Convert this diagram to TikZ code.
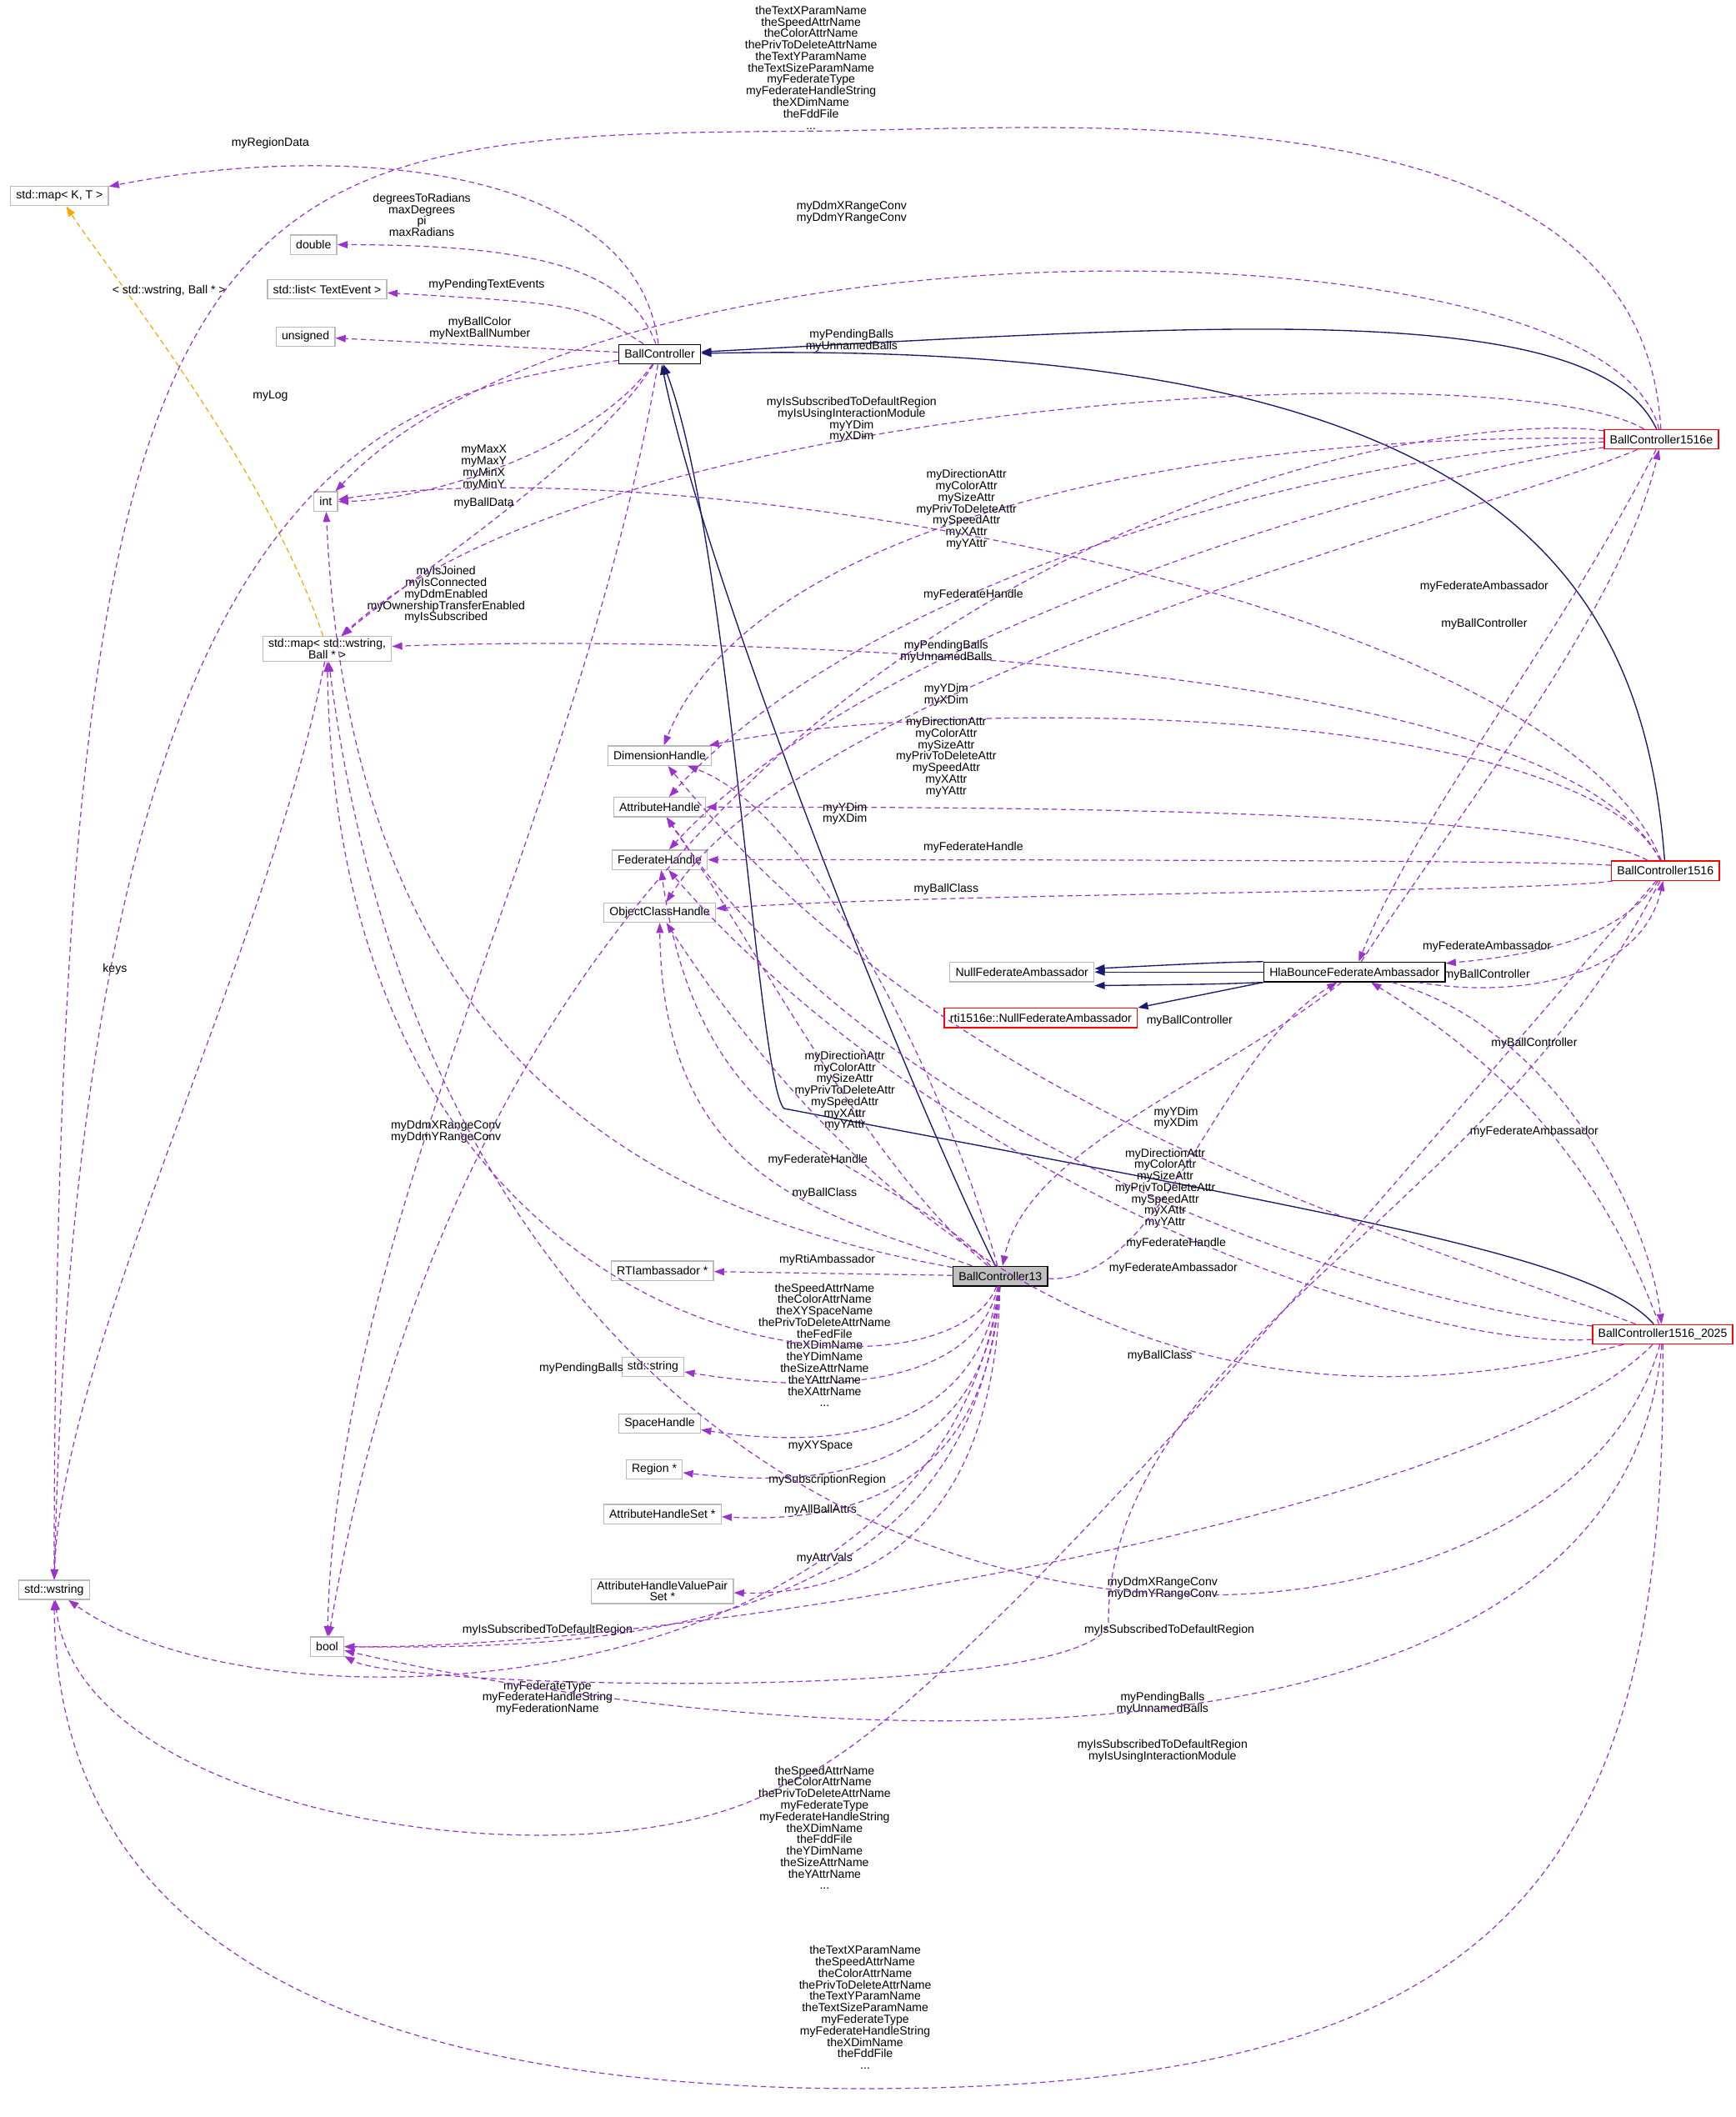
\documentclass[tikz,border=0pt]{standalone}
\usepackage{fontspec}
\setmainfont{Liberation Sans}
\usetikzlibrary{arrows.meta}
\definecolor{dep}{HTML}{9A32CD}
\definecolor{inh}{HTML}{191970}
\definecolor{tpl}{HTML}{FFA500}
\begin{document}
\begin{tikzpicture}[x=0.6pt,y=-0.6pt,
 every node/.style={font=\fontsize{5.2}{5.1}\selectfont},
 box/.style={draw=gray!55,line width=0.5pt,inner xsep=2.5pt,minimum height=8.6pt,inner ysep=1pt,fill=white},
 rbox/.style={box,draw=red},
 mbox/.style={box,draw=black,line width=0.6pt},
 cbox/.style={box,draw=black,fill=gray!50,line width=0.6pt},
 lab/.style={align=center,inner sep=0pt},
 d/.style={draw=dep,dash pattern=on 2.4pt off 1.6pt,line width=0.45pt,-{Triangle[length=4.5pt,width=3.2pt,fill=dep]}},
 i/.style={draw=inh,line width=0.5pt,-{Triangle[length=4.5pt,width=3.2pt,fill=inh]}},
 t/.style={draw=tpl,dash pattern=on 2.4pt off 1.6pt,line width=0.45pt,-{Triangle[length=4.5pt,width=3.2pt,fill=tpl]}}]
\useasboundingbox (0,0) rectangle (1284,1566);
% nodes
\node[box] (mapKT) at (44,145) {std::map< K, T >};
\node[box] (dbl) at (232,181) {double};
\node[box] (lst) at (242,214) {std::list< TextEvent >};
\node[box] (uns) at (226,249) {unsigned};
\node[mbox] (bc) at (488,262) {BallController};
\node[box] (int) at (241,371) {int};
\node[box,align=center] (mapwB) at (242,480) {std::map< std::wstring,\\Ball * >};
\node[box] (dim) at (488,559) {DimensionHandle};
\node[box] (attr) at (488,597) {AttributeHandle};
\node[box] (fed) at (488,636) {FederateHandle};
\node[box] (och) at (488,675) {ObjectClassHandle};
\node[box] (nfa) at (756,719) {NullFederateAmbassador};
\node[mbox] (hla) at (1002,719) {HlaBounceFederateAmbassador};
\node[rbox] (rti) at (770,753) {rti1516e::NullFederateAmbassador};
\node[rbox] (e) at (1229,325) {BallController1516e};
\node[rbox] (b16) at (1232,644) {BallController1516};
\node[cbox] (b13) at (740,944) {BallController13};
\node[rbox] (b25) at (1230,987) {BallController1516\_2025};
\node[box] (rtiamb) at (490,940) {RTIambassador *};
\node[box] (str) at (483,1011) {std::string};
\node[box] (sp) at (488,1053) {SpaceHandle};
\node[box] (reg) at (484,1087) {Region *};
\node[box] (ahs) at (490,1120) {AttributeHandleSet *};
\node[box,align=center] (ahv) at (490,1177) {AttributeHandleValuePair\\Set *};
\node[box] (ws) at (40,1176) {std::wstring};
\node[box] (bool) at (242,1218) {bool};
% inheritance
\draw[i] (e) .. controls (1180,220) and (900,240) .. (bc);
\draw[i] (b16) .. controls (1215,420) and (1100,250) .. (bc);
\draw[i] (b13) .. controls (660,780) and (520,420) .. (bc);
\draw[i] (b25) .. controls (1180,930) and (1000,900) .. (580,820) .. controls (560,800) and (540,400) .. (bc);
\draw[i] (hla.north west) .. controls (900,712) .. ([yshift=1.5pt]nfa.east);
\draw[i] (hla.west) -- (nfa.east);
\draw[i] (hla.south west) .. controls (900,728) .. ([yshift=-1.5pt]nfa.south east);
\draw[i] (hla.south west) -- (rti.north east);
\draw[t] (mapwB) .. controls (200,350) and (80,200) .. (mapKT);
\node[lab] at (125,215) {< std::wstring, Ball * >};
% BallController deps
\draw[d] (bc) .. controls (470,120) and (250,105) .. (mapKT);
\node[lab] at (200,106) {myRegionData};
\draw[d] (bc) .. controls (465,200) and (400,181) .. (dbl);
\node[lab] at (312,159) {degreesToRadians\\maxDegrees\\pi\\maxRadians};
\draw[d] (bc) .. controls (430,225) .. (lst);
\node[lab] at (360,211) {myPendingTextEvents};
\draw[d] (bc) -- (uns);
\node[lab] at (355,243) {myBallColor\\myNextBallNumber};
\draw[d] (bc) .. controls (300,290) and (60,320) .. (ws);
\node[lab] at (200,293) {myLog};
\draw[d] (bc) .. controls (440,330) and (320,370) .. (int);
\node[lab] at (358,346) {myMaxX\\myMaxY\\myMinX\\myMinY};
\draw[d] (bc) .. controls (440,340) and (300,430) .. (mapwB);
\node[lab] at (358,372) {myBallData};
\draw[d] (bc) .. controls (430,600) and (250,900) .. (bool);
\node[lab] at (330,440) {myIsJoined\\myIsConnected\\myDdmEnabled\\myOwnershipTransferEnabled\\myIsSubscribed};
\draw[d] (mapwB) .. controls (200,700) and (45,1000) .. (ws);
\node[lab] at (85,717) {keys};
% BallController1516e deps
\draw[d] (e) .. controls (1215,60) and (800,95) .. (600,97) .. controls (150,100) and (42,110) .. (ws);
\node[lab] at (600,50) {theTextXParamName\\theSpeedAttrName\\theColorAttrName\\thePrivToDeleteAttrName\\theTextYParamName\\theTextSizeParamName\\myFederateType\\myFederateHandleString\\theXDimName\\theFddFile\\...};
\draw[d] (e) .. controls (1190,160) and (450,150) .. (int);
\node[lab] at (630,157) {myDdmXRangeConv\\myDdmYRangeConv};
\draw[d] (e) .. controls (1120,260) and (450,290) .. (mapwB);
\node[lab] at (630,252) {myPendingBalls\\myUnnamedBalls};
\draw[d] (e) .. controls (1060,300) and (380,400) .. (bool);
\node[lab] at (630,302) {myIsSubscribedToDefaultRegion\\myIsUsingInteractionModule};
\draw[d] (e) .. controls (900,320) and (560,380) .. (dim);
\node[lab] at (630,319) {myYDim\\myXDim};
\draw[d] (e) .. controls (1000,335) and (650,420) .. (attr);
\node[lab] at (715,377) {myDirectionAttr\\myColorAttr\\mySizeAttr\\myPrivToDeleteAttr\\mySpeedAttr\\myXAttr\\myYAttr};
\draw[d] (e) .. controls (1050,350) and (650,460) .. (fed);
\draw[d] (e) .. controls (1100,380) and (600,500) .. (och);
\draw[d] (e) .. controls (1150,480) and (1050,600) .. (hla);
\node[lab] at (1098,434) {myFederateAmbassador};
\draw[d] (hla) .. controls (1080,600) and (1200,450) .. (e);
\node[lab] at (1098,462) {myBallController};
% BallController1516 deps
\draw[d] (b16) .. controls (1150,440) and (500,330) .. (int);
\node[lab] at (720,440) {myFederateHandle};
\draw[d] (b16) .. controls (1150,480) and (500,470) .. (mapwB);
\node[lab] at (700,482) {myPendingBalls\\myUnnamedBalls};
\draw[d] (b16) .. controls (1170,520) and (700,515) .. (dim);
\node[lab] at (700,514) {myYDim\\myXDim};
\draw[d] (b16) .. controls (1150,597) and (700,597) .. (attr);
\node[lab] at (700,560) {myDirectionAttr\\myColorAttr\\mySizeAttr\\myPrivToDeleteAttr\\mySpeedAttr\\myXAttr\\myYAttr};
\draw[d] (b16) .. controls (1150,636) and (700,636) .. (fed);
\node[lab] at (720,627) {myFederateHandle};
\draw[d] (b16) .. controls (1150,660) and (700,660) .. (och);
\node[lab] at (700,658) {myBallClass};
\draw[d] (b16) .. controls (1200,690) and (1150,705) .. (hla);
\node[lab] at (1100,700) {myFederateAmbassador};
\draw[d] (hla) .. controls (1130,740) and (1215,720) .. (b16);
\node[lab] at (1100,721) {myBallController};
\draw[d] (b16) .. controls (1100,900) and (820,1000) .. (820,1200) .. controls (810,1260) and (300,1250) .. (bool);
\node[lab] at (865,1206) {myIsSubscribedToDefaultRegion};
\draw[d] (b16) .. controls (1050,850) and (700,1280) .. (580,1320) .. controls (450,1400) and (60,1350) .. (ws);
\node[lab] at (610,1352) {theSpeedAttrName\\theColorAttrName\\thePrivToDeleteAttrName\\myFederateType\\myFederateHandleString\\theXDimName\\theFddFile\\theYDimName\\theSizeAttrName\\theYAttrName\\...};
% BallController13 deps
\draw[d] (b13) .. controls (700,800) and (600,600) .. (dim);
\node[lab] at (625,602) {myYDim\\myXDim};
\draw[d] (b13) .. controls (640,860) and (560,700) .. (attr);
\node[lab] at (625,807) {myDirectionAttr\\myColorAttr\\mySizeAttr\\myPrivToDeleteAttr\\mySpeedAttr\\myXAttr\\myYAttr};
\draw[d] (b13) .. controls (500,900) and (260,800) .. (int);
\node[lab] at (330,837) {myDdmXRangeConv\\myDdmYRangeConv};
\draw[d] (b13) .. controls (650,850) and (520,860) .. (fed);
\node[lab] at (605,858) {myFederateHandle};
\draw[d] (b13) .. controls (620,900) and (490,880) .. (och);
\node[lab] at (610,883) {myBallClass};
\draw[d] (b13) -- (rtiamb);
\node[lab] at (612,932) {myRtiAmbassador};
\draw[d] (b13) .. controls (720,1030) and (600,1030) .. (str);
\node[lab] at (610,995) {theSpeedAttrName\\theColorAttrName\\theXYSpaceName\\thePrivToDeleteAttrName\\theFedFile\\theXDimName\\theYDimName\\theSizeAttrName\\theYAttrName\\theXAttrName\\...};
\draw[d] (b13) .. controls (700,1050) and (250,1020) .. (mapwB);
\node[lab] at (430,1012) {myPendingBalls};
\draw[d] (b13) .. controls (720,1070) and (600,1070) .. (sp);
\node[lab] at (607,1070) {myXYSpace};
\draw[d] (b13) .. controls (725,1095) and (600,1100) .. (reg);
\node[lab] at (612,1095) {mySubscriptionRegion};
\draw[d] (b13) .. controls (730,1120) and (600,1125) .. (ahs);
\node[lab] at (607,1117) {myAllBallAttrs};
\draw[d] (b13) .. controls (735,1150) and (620,1180) .. (ahv);
\node[lab] at (610,1153) {myAttrVals};
\draw[d] (b13) .. controls (720,1210) and (450,1220) .. (bool);
\node[lab] at (405,1206) {myIsSubscribedToDefaultRegion};
\draw[d] (b13) .. controls (700,1260) and (200,1290) .. (ws);
\node[lab] at (405,1256) {myFederateType\\myFederateHandleString\\myFederationName};
\draw[d] (hla) .. controls (900,800) and (760,850) .. (b13);
\node[lab] at (880,755) {myBallController};
\draw[d] (b13) .. controls (860,950) and (900,780) .. (hla);
\node[lab] at (868,938) {myFederateAmbassador};
% BallController1516_2025 deps
\draw[d] (b25) .. controls (1000,900) and (700,820) .. (dim);
\node[lab] at (870,827) {myYDim\\myXDim};
\draw[d] (b25) .. controls (1000,960) and (650,840) .. (attr);
\node[lab] at (862,879) {myDirectionAttr\\myColorAttr\\mySizeAttr\\myPrivToDeleteAttr\\mySpeedAttr\\myXAttr\\myYAttr};
\draw[d] (b25) .. controls (1050,1000) and (700,880) .. (fed);
\node[lab] at (870,920) {myFederateHandle};
\draw[d] (b25) .. controls (950,1060) and (700,1000) .. (och);
\node[lab] at (858,1003) {myBallClass};
\draw[d] (b25) .. controls (1180,850) and (1100,780) .. (hla);
\node[lab] at (1135,837) {myFederateAmbassador};
\draw[d] (hla) .. controls (1150,760) and (1220,900) .. (b25);
\node[lab] at (1135,772) {myBallController};
\draw[d] (b25) .. controls (1100,1120) and (500,1220) .. (bool);
\node[lab] at (860,1175) {myDdmXRangeConv\\myDdmYRangeConv};
\draw[d] (b25) .. controls (1150,1280) and (350,1320) .. (mapwB);
\node[lab] at (860,1260) {myPendingBalls\\myUnnamedBalls};
\draw[d] (b25) .. controls (1200,1330) and (600,1300) .. (bool);
\node[lab] at (860,1295) {myIsSubscribedToDefaultRegion\\myIsUsingInteractionModule};
\draw[d] (b25) .. controls (1235,1400) and (1100,1545) .. (640,1545) .. controls (200,1545) and (42,1400) .. (ws);
\node[lab] at (640,1485) {theTextXParamName\\theSpeedAttrName\\theColorAttrName\\thePrivToDeleteAttrName\\theTextYParamName\\theTextSizeParamName\\myFederateType\\myFederateHandleString\\theXDimName\\theFddFile\\...};
\end{tikzpicture}
\end{document}
